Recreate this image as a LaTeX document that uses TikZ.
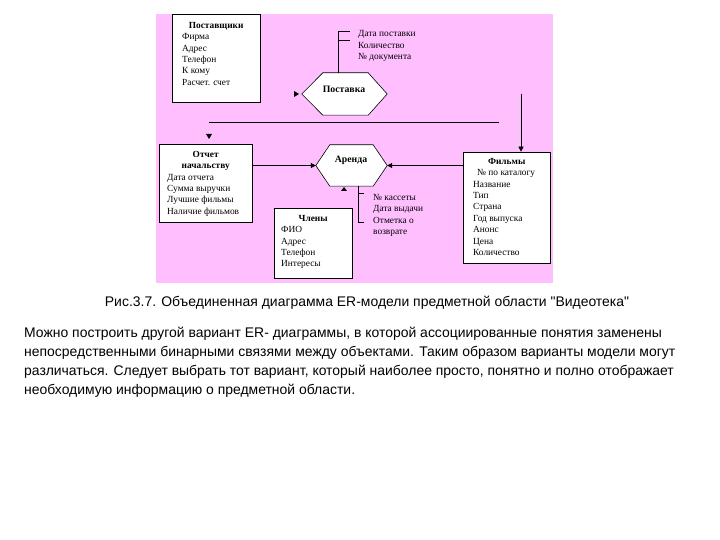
\documentclass[tikz,border=0pt]{standalone}
\usepackage{fontspec}
\setmainfont{Liberation Serif}
\newfontfamily\captionfont{Liberation Sans}
\usetikzlibrary{arrows.meta}
\definecolor{diagpink}{RGB}{255,191,255}

\begin{document}
\begin{tikzpicture}[x=1bp, y=-1bp,
		entity_style/.style={draw=black, fill=white, line width=0.6bp, inner sep=0pt},
		hex_style/.style={inner sep=0pt},
		hex_line/.style={draw=black, fill=white, line width=0.6bp},
		attr_style/.style={inner sep=0pt, anchor=base west, font=\fontsize{9.4}{11.4}\selectfont},
		rel_style/.style={inner sep=0pt, font=\fontsize{9.8}{11}\selectfont\bfseries},
		edge_style/.style={draw=black, line width=0.6bp},
		arrow_style/.style={edge_style, -{Triangle[length=5bp, width=5bp]}},
		text_style/.style={inner sep=0pt, font=\captionfont\fontsize{14}{19.3}\selectfont}]
		
		\useasboundingbox (0,0) rectangle (720,540);
		\fill[white] (0,0) rectangle (720,540);
		\fill[diagpink] (156,14) rectangle (553,283);
		
		% entities
		\node[entity_style, minimum width=88bp, minimum height=88bp] (postavshchiki) at (216,58) {};
		\node[attr_style] (postavshchikiT) at (182,28.5) {\begin{tabular}[t]{@{}p{68bp}@{}}
				\multicolumn{1}{@{}c@{}}{\textbf{Поставщики}}\\
				Фирма\\ Адрес\\ Телефон\\ К кому\\ Расчет. счет
			\end{tabular}};
		
		\node[entity_style, minimum width=93bp, minimum height=78bp] (otchet) at (205.5,183) {};
		\node[attr_style] (otchetT) at (167,157.5) {\begin{tabular}[t]{@{}p{77bp}@{}}
				\multicolumn{1}{@{}c@{}}{\textbf{Отчет}}\\
				\multicolumn{1}{@{}c@{}}{\textbf{начальству}}\\
				Дата отчета\\ Сумма выручки\\ Лучшие фильмы\\ Наличие фильмов
			\end{tabular}};
		
		\node[entity_style, minimum width=78bp, minimum height=70bp] (chleny) at (313,243) {};
		\node[attr_style] (chlenyT) at (281,221.5) {\begin{tabular}[t]{@{}p{64bp}@{}}
				\multicolumn{1}{@{}c@{}}{\textbf{Члены}}\\
				ФИО\\ Адрес\\ Телефон\\ Интересы
			\end{tabular}};
		
		\node[entity_style, minimum width=87bp, minimum height=111bp] (filmy) at (506.5,207.5) {};
		\node[attr_style] (filmyT) at (473,164.5) {\begin{tabular}[t]{@{}p{67bp}@{}}
				\multicolumn{1}{@{}c@{}}{\textbf{Фильмы}}\\
				\hspace{4bp}№ по каталогу\\ Название\\ Тип\\ Страна\\ Год выпуска\\ Анонс\\ Цена\\ Количество
			\end{tabular}};
		
		% relationships
		\node[hex_style, minimum width=85bp, minimum height=42bp] (postavka) at (344.5,94) {};
		\draw[hex_line] (postavka.west) -- ([xshift=21bp]postavka.north west) -- ([xshift=-19bp]postavka.north east)
			-- (postavka.east) -- ([xshift=-19bp]postavka.south east) -- ([xshift=21bp]postavka.south west) -- cycle;
		\node[rel_style] (postavkaT) at (344,89) {Поставка};
		
		\node[hex_style, minimum width=71bp, minimum height=41bp] (arenda) at (351.5,165.5) {};
		\draw[hex_line] (arenda.west) -- ([xshift=14bp]arenda.north west) -- ([xshift=-14bp]arenda.north east)
			-- (arenda.east) -- ([xshift=-14bp]arenda.south east) -- ([xshift=14bp]arenda.south west) -- cycle;
		\node[rel_style] (arendaT) at (351,160) {Аренда};
		
		% attributes of relationships
		\node[attr_style] (postavkaA) at (358,37) {\begin{tabular}[t]{@{}l@{}}
				Дата поставки\\ Количество\\ № документа
			\end{tabular}};
		\coordinate (postavkaTop) at (338,31);
		\draw[edge_style] (postavkaTop |- postavka.north) -- (postavkaTop) -- ++(12,0);
		\draw[edge_style] (338,40) -- ++(12,0);
		
		\node[attr_style] (arendaA) at (373,200.5) {\begin{tabular}[t]{@{}l@{}}
				№ кассеты\\ Дата выдачи\\ Отметка о\\ возврате
			\end{tabular}};
		\coordinate (arendaBot) at (358,222);
		\draw[edge_style] (arendaBot |- arenda.south) -- (arendaBot) -- ++(6,0);
		\draw[edge_style] (358,193) -- ++(6,0);
		
		% connectors
		\draw[arrow_style] (otchet.east |- arenda.west) -- (arenda.west);
		\draw[arrow_style] (filmy.west |- arenda.east) -- (arenda.east);
		\coordinate (filmyIn) at (521,94);
		\draw[arrow_style] (filmyIn) -- (filmyIn |- filmy.north);
		\coordinate (lineL) at (209,122);
		\coordinate (lineR) at (499,122);
		\draw[edge_style] (lineL) -- (lineR);
		
		% loose arrowheads
		\coordinate (postavkaTip) at (299,94);
		\fill (postavkaTip) -- ++(-5,-3) -- ++(0,6) -- cycle;
		\coordinate (otchetTip) at (209,139);
		\fill (otchetTip) -- ++(-3,-5) -- ++(6,0) -- cycle;
		\coordinate (arendaTip) at (344,187);
		\fill (arendaTip) -- ++(-3,4) -- ++(6,0) -- cycle;
		
		% caption and text
		\node[text_style] (caption) at (367,303) {Рис.3.7. Объединенная диаграмма ER-модели предметной области "Видеотека"};
		\node[text_style, anchor=base west] (para) at (24,337) {\begin{tabular}[t]{@{}l@{}}
				Можно построить другой вариант ER- диаграммы, в которой ассоциированные понятия заменены\\
				непосредственными бинарными связями между объектами. Таким образом варианты модели могут\\
				различаться. Следует выбрать тот вариант, который наиболее просто, понятно и полно отображает\\
				необходимую информацию о предметной области.
			\end{tabular}};
		
\end{tikzpicture}
\end{document}
